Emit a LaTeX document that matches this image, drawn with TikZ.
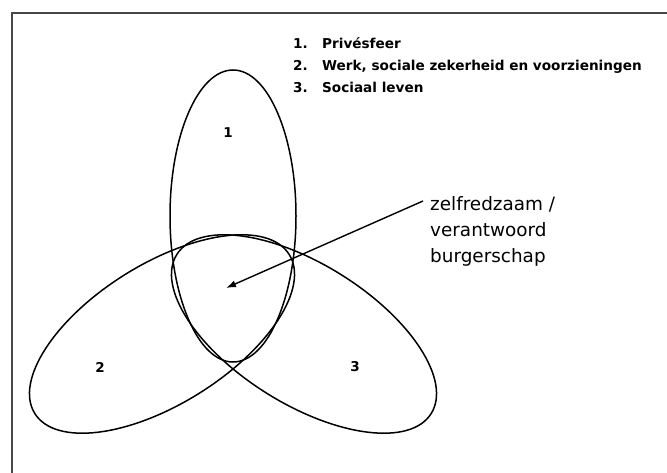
\documentclass[tikz,border=0pt]{standalone}
\usepackage{fontspec}
\setmainfont{DejaVu Sans}
\usepackage{xcolor}
\usepackage{tikz}
\usetikzlibrary{positioning, arrows.meta, calc, shapes.geometric}
\definecolor{framegray}{HTML}{474747}

\begin{document}
\begin{tikzpicture}[x=1pt, y=-1pt,
    sphere/.style={draw, ellipse, line width=1.5pt, inner sep=0pt,
          minimum width=300pt, minimum height=140pt},
    tag/.style={inner sep=0pt, font=\bfseries\fontsize{13.5}{13.5}\selectfont}]
    \useasboundingbox (0,0) rectangle (667,473);
    \draw[framegray, line width=2.6pt] (12,480) -- (12,13) -- (680,13);
    % the three spheres
    \node[sphere, minimum width=126pt, minimum height=292pt] (prive) at (233,216) {};
    \node[sphere, rotate=32] (werk) at (162,334) {};
    \node[sphere, rotate=-32] (sociaal) at (304,334) {};
    \node[tag] (one) at (228,133) {1};
    \node[tag] (two) at (100,367) {2};
    \node[tag] (three) at (355,367) {3};
    % legend
    \node[anchor=north west, inner sep=0pt,
          font=\bfseries\fontsize{13.6}{22}\selectfont] (legend) at (293,33) {%
      \begin{tabular}{@{}p{29pt}@{}l@{}}
        1. & Privésfeer\\
        2. & Werk, sociale zekerheid en voorzieningen\\
        3. & Sociaal leven
      \end{tabular}};
    % overlap of the three
    \node[anchor=north west, inner sep=0pt, align=left,
          font=\fontsize{18.4}{26}\selectfont] (burger) at (430,196) {%
      zelfredzaam /\\verantwoord\\burgerschap};
    \coordinate (core) at (226,288);
    \draw[-{Latex[length=10pt, width=7pt]}, line width=1.4pt]
      ([shift={(-7,5)}]burger.north west) -- (core);
\end{tikzpicture}
\end{document}
